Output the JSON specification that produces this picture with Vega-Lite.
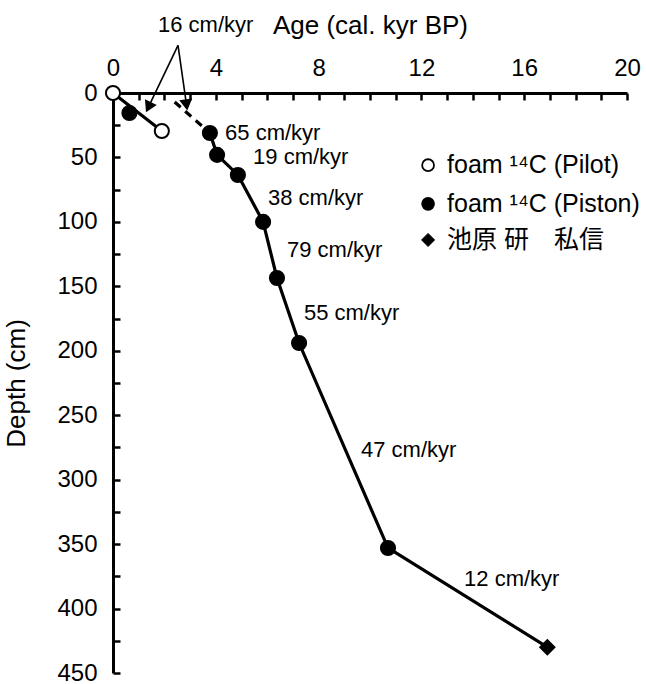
{
  "$schema": "https://vega.github.io/schema/vega-lite/v6.json",
  "width": 514,
  "height": 580,
  "autosize": {"type": "none"},
  "padding": {"left": 113, "top": 93, "right": 19, "bottom": 11},
  "config": {
    "view": {"stroke": null},
    "font": "Liberation Sans",
    "axis": {
      "grid": false,
      "domainColor": "black",
      "domainWidth": 3,
      "tickColor": "black",
      "tickWidth": 2.5,
      "tickSize": -7,
      "labelColor": "black",
      "titleColor": "black",
      "labelFontSize": 24,
      "titleFontSize": 26,
      "titleFontWeight": "normal",
      "labelFlush": false,
      "labelOverlap": false,
      "labelFont": "Liberation Sans",
      "titleFont": "Liberation Sans"
    }
  },
  "datasets": {
    "legendRows": [
      {"src": "foam ¹⁴C (Pilot)", "age": 12.26, "tage": 13.0, "depth": 56},
      {"src": "foam ¹⁴C (Piston)", "age": 12.26, "tage": 13.0, "depth": 86},
      {"src": "池原 研　私信", "age": 12.26, "tage": 13.0, "depth": 114}
    ]
  },
  "encoding": {
    "x": {
      "field": "age",
      "type": "quantitative",
      "scale": {"domain": [0, 20], "nice": false, "zero": false},
      "axis": {
        "orient": "top",
        "title": "Age (cal. kyr BP)",
        "values": [0,1,2,3,4,5,6,7,8,9,10,11,12,13,14,15,16,17,18,19,20],
        "labelExpr": "datum.value % 4 === 0 ? datum.label : ''",
        "labelPadding": 20,
        "titlePadding": 18
      }
    },
    "y": {
      "field": "depth",
      "type": "quantitative",
      "scale": {"domain": [0, 450], "reverse": true, "nice": false, "zero": false},
      "axis": {
        "title": "Depth (cm)",
        "values": [0,25,50,75,100,125,150,175,200,225,250,275,300,325,350,375,400,425,450],
        "labelExpr": "datum.value % 50 === 0 ? datum.label : ''",
        "labelPadding": 23,
        "titlePadding": 27
      }
    }
  },
  "layer": [
    {
      "data": {"values": [
        {"seg": "pilot", "age": 0, "depth": 0},
        {"seg": "pilot", "age": 1.9, "depth": 29.5}
      ]},
      "mark": {"type": "line", "color": "black", "strokeWidth": 3.2}
    },
    {
      "data": {"values": [
        {"seg": "dash", "age": 2.4, "depth": 7},
        {"seg": "dash", "age": 3.77, "depth": 31}
      ]},
      "mark": {"type": "line", "color": "black", "strokeWidth": 3.2, "strokeDash": [8, 6]}
    },
    {
      "data": {"values": [
        {"age": 3.77, "depth": 31},
        {"age": 4.05, "depth": 48},
        {"age": 4.86, "depth": 63.6},
        {"age": 5.84, "depth": 100},
        {"age": 6.38, "depth": 143.5},
        {"age": 7.24, "depth": 194},
        {"age": 10.7, "depth": 353},
        {"age": 16.9, "depth": 430}
      ]},
      "mark": {"type": "line", "color": "black", "strokeWidth": 3.2}
    },
    {
      "data": {"values": [
        {"age": 2.53, "depth": -37, "age2": 1.34, "depth2": 12.5},
        {"age": 2.53, "depth": -37, "age2": 2.87, "depth2": 10.5}
      ]},
      "mark": {"type": "rule", "color": "black", "strokeWidth": 1.6, "clip": false},
      "encoding": {
        "x2": {"field": "age2"},
        "y2": {"field": "depth2"}
      }
    },
    {
      "data": {"values": [
        {"age": 1.41, "depth": 9.7, "ang": 205.5},
        {"age": 2.85, "depth": 7.8, "ang": 171.9}
      ]},
      "mark": {"type": "point", "shape": "triangle", "filled": true, "color": "black", "opacity": 1, "size": 170, "clip": false},
      "encoding": {
        "angle": {"field": "ang", "type": "quantitative", "scale": null}
      }
    },
    {
      "data": {"values": [
        {"src": "foam ¹⁴C (Pilot)", "age": 0, "depth": 0},
        {"src": "foam ¹⁴C (Pilot)", "age": 1.9, "depth": 29.5},
        {"src": "foam ¹⁴C (Piston)", "age": 0.64, "depth": 15.5},
        {"src": "foam ¹⁴C (Piston)", "age": 3.77, "depth": 31},
        {"src": "foam ¹⁴C (Piston)", "age": 4.05, "depth": 48},
        {"src": "foam ¹⁴C (Piston)", "age": 4.86, "depth": 63.6},
        {"src": "foam ¹⁴C (Piston)", "age": 5.84, "depth": 100},
        {"src": "foam ¹⁴C (Piston)", "age": 6.38, "depth": 143.5},
        {"src": "foam ¹⁴C (Piston)", "age": 7.24, "depth": 194},
        {"src": "foam ¹⁴C (Piston)", "age": 10.7, "depth": 353},
        {"src": "池原 研　私信", "age": 16.9, "depth": 430}
      ]},
      "mark": {"type": "point", "filled": true, "stroke": "black", "strokeWidth": 2, "opacity": 1, "size": 200, "clip": false},
      "encoding": {
        "shape": {
          "field": "src", "type": "nominal",
          "scale": {"domain": ["foam ¹⁴C (Pilot)", "foam ¹⁴C (Piston)", "池原 研　私信"], "range": ["circle", "circle", "diamond"]},
          "legend": null
        },
        "fill": {
          "field": "src", "type": "nominal",
          "scale": {"domain": ["foam ¹⁴C (Pilot)", "foam ¹⁴C (Piston)", "池原 研　私信"], "range": ["white", "black", "black"]},
          "legend": null
        }
      }
    },
    {
      "data": {"name": "legendRows"},
      "transform": [{"filter": "datum.src !== '池原 研　私信'"}],
      "mark": {"type": "point", "filled": true, "stroke": "black", "strokeWidth": 1.8, "opacity": 1, "size": 140, "clip": false},
      "encoding": {
        "shape": {"field": "src", "type": "nominal", "legend": null},
        "fill": {"field": "src", "type": "nominal", "legend": null}
      }
    },
    {
      "data": {"name": "legendRows"},
      "transform": [{"filter": "datum.src === '池原 研　私信'"}],
      "mark": {"type": "point", "filled": true, "stroke": "black", "strokeWidth": 1, "opacity": 1, "size": 170, "clip": false},
      "encoding": {
        "shape": {"field": "src", "type": "nominal", "legend": null},
        "fill": {"field": "src", "type": "nominal", "legend": null}
      }
    },
    {
      "data": {"name": "legendRows"},
      "mark": {"type": "text", "align": "left", "baseline": "middle", "fontSize": 25, "font": "Liberation Sans, Noto Sans CJK JP", "color": "black", "clip": false},
      "encoding": {
        "x": {"field": "tage", "type": "quantitative"},
        "text": {"field": "src"}
      }
    },
    {
      "data": {"values": [
        {"age": 1.75, "depth": -53, "label": "16 cm/kyr"},
        {"age": 4.36, "depth": 31, "label": "65 cm/kyr"},
        {"age": 5.45, "depth": 49.6, "label": "19 cm/kyr"},
        {"age": 6.03, "depth": 81.5, "label": "38 cm/kyr"},
        {"age": 6.77, "depth": 122, "label": "79 cm/kyr"},
        {"age": 7.43, "depth": 171, "label": "55 cm/kyr"},
        {"age": 9.65, "depth": 277, "label": "47 cm/kyr"},
        {"age": 13.66, "depth": 377, "label": "12 cm/kyr"}
      ]},
      "mark": {"type": "text", "align": "left", "baseline": "middle", "fontSize": 22, "font": "Liberation Sans", "color": "black", "clip": false},
      "encoding": {"text": {"field": "label"}}
    }
  ]
}
